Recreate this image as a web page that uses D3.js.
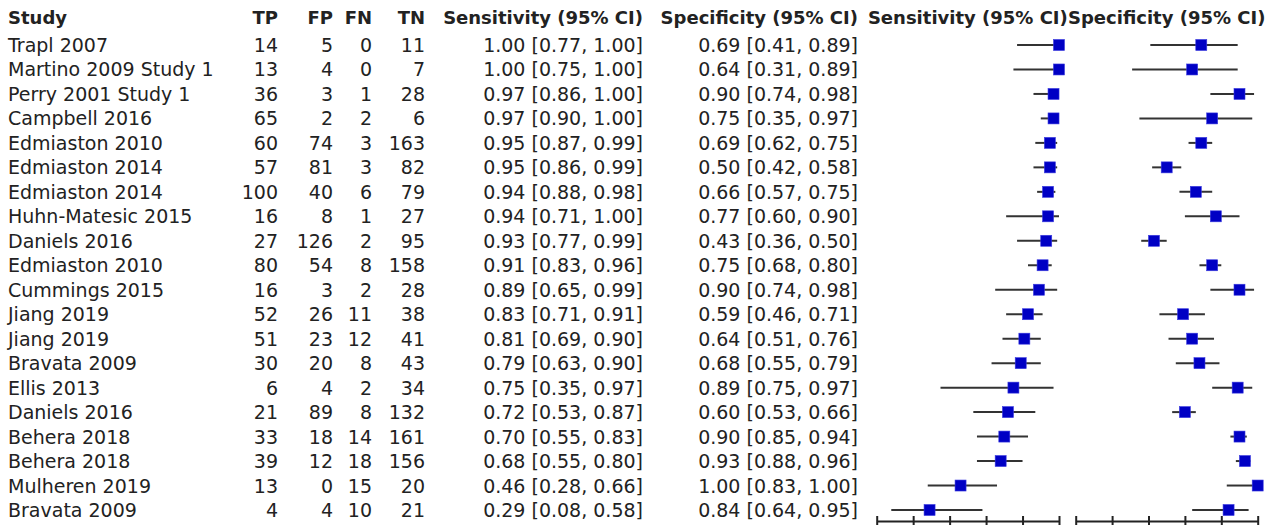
<!DOCTYPE html>
<html>
<head>
<meta charset="utf-8">
<script src="https://cdn.jsdelivr.net/npm/d3@7"></script>
<style>
  body { margin: 0; background: #fff; }
  svg text { font-family: "DejaVu Sans", Verdana, sans-serif; fill: #222; }
</style>
</head>
<body>
<div id="chart"></div>
<script>
/* Study data */
var studies = ["Trapl 2007", "Martino 2009 Study 1", "Perry 2001 Study 1", "Campbell 2016",
    "Edmiaston 2010", "Edmiaston 2014", "Edmiaston 2014", "Huhn-Matesic 2015", "Daniels 2016",
    "Edmiaston 2010", "Cummings 2015", "Jiang 2019", "Jiang 2019", "Bravata 2009", "Ellis 2013",
    "Daniels 2016", "Behera 2018", "Behera 2018", "Mulheren 2019", "Bravata 2009"];
var tp = [14, 13, 36, 65, 60, 57, 100, 16, 27, 80, 16, 52, 51, 30, 6, 21, 33, 39, 13, 4];
var fp = [5, 4, 3, 2, 74, 81, 40, 8, 126, 54, 3, 26, 23, 20, 4, 89, 18, 12, 0, 4];
var fn = [0, 0, 1, 2, 3, 3, 6, 1, 2, 8, 2, 11, 12, 8, 2, 8, 14, 18, 15, 10];
var tn = [11, 7, 28, 6, 163, 82, 79, 27, 95, 158, 28, 38, 41, 43, 34, 132, 161, 156, 20, 21];
var sens = [1.00, 1.00, 0.97, 0.97, 0.95, 0.95, 0.94, 0.94, 0.93, 0.91, 0.89, 0.83, 0.81, 0.79, 0.75, 0.72, 0.70, 0.68, 0.46, 0.29];
var sensLo = [0.77, 0.75, 0.86, 0.90, 0.87, 0.86, 0.88, 0.71, 0.77, 0.83, 0.65, 0.71, 0.69, 0.63, 0.35, 0.53, 0.55, 0.55, 0.28, 0.08];
var sensHi = [1.00, 1.00, 1.00, 1.00, 0.99, 0.99, 0.98, 1.00, 0.99, 0.96, 0.99, 0.91, 0.90, 0.90, 0.97, 0.87, 0.83, 0.80, 0.66, 0.58];
var spec = [0.69, 0.64, 0.90, 0.75, 0.69, 0.50, 0.66, 0.77, 0.43, 0.75, 0.90, 0.59, 0.64, 0.68, 0.89, 0.60, 0.90, 0.93, 1.00, 0.84];
var specLo = [0.41, 0.31, 0.74, 0.35, 0.62, 0.42, 0.57, 0.60, 0.36, 0.68, 0.74, 0.46, 0.51, 0.55, 0.75, 0.53, 0.85, 0.88, 0.83, 0.64];
var specHi = [0.89, 0.89, 0.98, 0.97, 0.75, 0.58, 0.75, 0.90, 0.50, 0.80, 0.98, 0.71, 0.76, 0.79, 0.97, 0.66, 0.94, 0.96, 1.00, 0.95];
var axisTicks = [0, 0.2, 0.4, 0.6, 0.8, 1.0];

var width = 1279, height = 525;
var fmt = d3.format(".2f");

var svg = d3.select("#chart").append("svg")
    .attr("width", width)
    .attr("height", height);

/* Scales */
var y = d3.scaleLinear().domain([0, studies.length - 1]).range([45, 510]);
var xSens = d3.scaleLinear().domain([0, 1]).range([876.7, 1059]);
var xSpec = d3.scaleLinear().domain([0, 1]).range([1075.7, 1257.7]);

/* Table columns: [header, accessor, right edge] */
var columns = [
    ["TP", function(i) { return tp[i]; }, 278],
    ["FP", function(i) { return fp[i]; }, 333],
    ["FN", function(i) { return fn[i]; }, 372],
    ["TN", function(i) { return tn[i]; }, 425],
    ["Sensitivity (95% CI)", function(i) { return fmt(sens[i]) + " [" + fmt(sensLo[i]) + ", " + fmt(sensHi[i]) + "]"; }, 643],
    ["Specificity (95% CI)", function(i) { return fmt(spec[i]) + " [" + fmt(specLo[i]) + ", " + fmt(specHi[i]) + "]"; }, 858]
];

var header = svg.append("g").attr("font-weight", "bold").attr("font-size", "18px");
header.append("text").attr("x", 8).attr("y", 24).text("Study");
columns.forEach(function(c) {
    header.append("text").attr("x", c[2]).attr("y", 24).attr("text-anchor", "end").text(c[0]);
});
header.append("text").attr("x", xSens(0.5)).attr("y", 24).attr("text-anchor", "middle").text("Sensitivity (95% CI)");
header.append("text").attr("x", xSpec(0.5)).attr("y", 24).attr("text-anchor", "middle").text("Specificity (95% CI)");

var idx = d3.range(studies.length);
var body = svg.append("g").attr("font-size", "19px");

body.selectAll("text.study")
    .data(idx)
    .enter()
    .append("text")
    .attr("class", "study")
    .attr("x", 8)
    .attr("y", function(i) { return y(i) + 7; })
    .text(function(i) { return studies[i]; });

columns.forEach(function(c, k) {
    body.selectAll("text.col" + k)
        .data(idx)
        .enter()
        .append("text")
        .attr("class", "col" + k)
        .attr("x", c[2])
        .attr("y", function(i) { return y(i) + 7; })
        .attr("text-anchor", "end")
        .text(c[1]);
});

/* Forest panels */
function panel(x, est, lo, hi) {
    var g = svg.append("g");
    g.selectAll("line.ci")
        .data(idx)
        .enter()
        .append("line")
        .attr("class", "ci")
        .attr("x1", function(i) { return x(lo[i]); })
        .attr("x2", function(i) { return x(hi[i]); })
        .attr("y1", function(i) { return y(i); })
        .attr("y2", function(i) { return y(i); })
        .attr("stroke", "#333")
        .attr("stroke-width", 2);
    g.selectAll("rect")
        .data(idx)
        .enter()
        .append("rect")
        .attr("x", function(i) { return x(est[i]) - 5.5; })
        .attr("y", function(i) { return y(i) - 5.5; })
        .attr("width", 11)
        .attr("height", 11)
        .attr("fill", "#0000c4")
        .attr("stroke", "#3a3ae0")
        .attr("stroke-width", 0.6);

    var axis = d3.axisBottom(x).tickValues(axisTicks).tickSize(0).tickFormat("");
    var ag = g.append("g")
        .attr("transform", "translate(0,521)")
        .call(axis);
    ag.select(".domain").attr("stroke", "#222").attr("stroke-width", 2);
    ag.selectAll(".tick line")
        .attr("y1", -5)
        .attr("y2", 6)
        .attr("stroke", "#222")
        .attr("stroke-width", 2);
}
panel(xSens, sens, sensLo, sensHi);
panel(xSpec, spec, specLo, specHi);
</script>
</body>
</html>
